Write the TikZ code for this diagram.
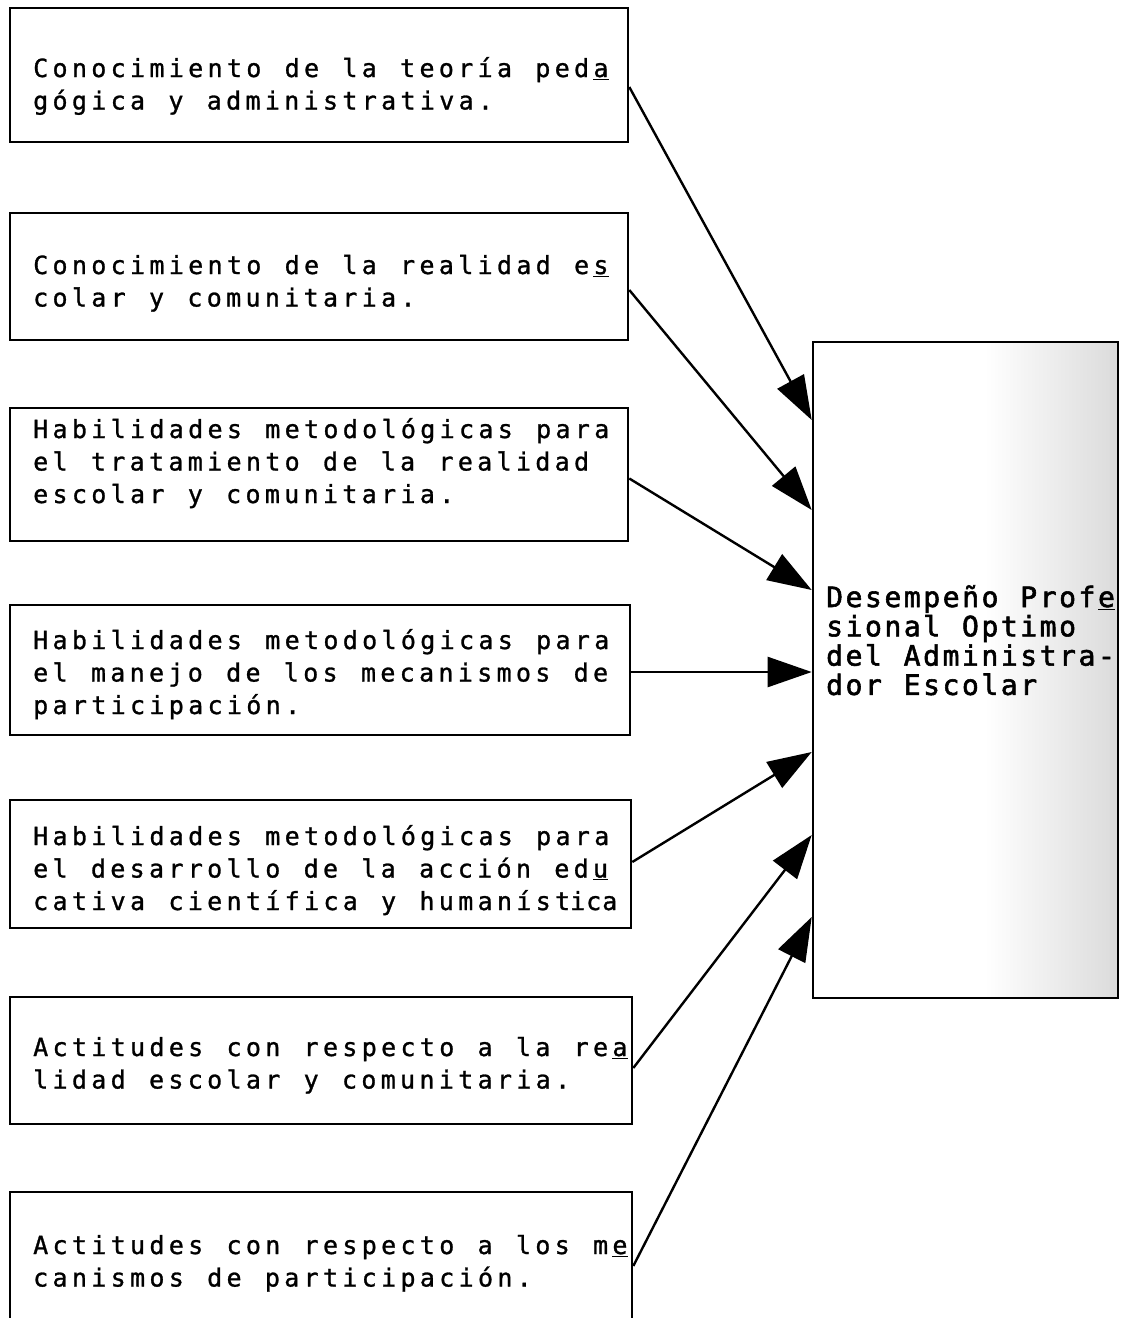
\documentclass[tikz,border=0pt]{standalone}
\usepackage{fontspec}
\usetikzlibrary{arrows.meta}
\newfontfamily\twl[LetterSpace=17.3,FakeBold=1.1]{DejaVu Sans Mono}
\newfontfamily\twr[LetterSpace=9.2,FakeBold=2]{DejaVu Sans Mono}
\newdimen\ulk
\newcommand\ulc[1]{\kern\ulk\underline{#1}}
\ExplSyntaxOn
\dim_new:N \l_tw_sp_dim
\NewDocumentCommand \twline { m }
  {
    \tl_set:Nn \l_tmpa_tl { #1 }
    \tl_replace_all:Nnn \l_tmpa_tl { ~ } { \hskip \l_tw_sp_dim \relax }
    \hbox:n { \l_tmpa_tl }
  }
\NewDocumentCommand \twsp { m } { \dim_set:Nn \l_tw_sp_dim { #1 } }
\ExplSyntaxOff
\newcommand\ltxt[1]{{\twl\fontsize{25pt}{32.5pt}\selectfont\twsp{23.3pt}\ulk=4.3pt\vtop{#1}}}
\newcommand\rtxt[1]{{\twr\fontsize{28pt}{29.3pt}\selectfont\twsp{21.8pt}\ulk=2.6pt\vtop{#1}}}
\tikzset{
  box/.style={draw, line width=2.6pt, inner sep=0pt, minimum width=#1},
  box/.default=618pt,
  ltext/.style={anchor=base west, inner sep=0pt},
  arr/.style={line width=2.4pt, -{Triangle[length=44pt,width=30pt]}}
}
\begin{document}
\begin{tikzpicture}[x=1pt,y=-1pt]
\useasboundingbox (0,0) rectangle (1124,1318);
% scan shading in right box
\fill[left color=white, right color=black!14] (985,343) rectangle (1117,997);
% left boxes
\node[box=618pt, minimum height=134pt] (b1) at (319,75) {};
\node[box=618pt, minimum height=127pt] (b2) at (319,276.5) {};
\node[box=618pt, minimum height=133pt] (b3) at (319,474.5) {};
\node[box=620pt, minimum height=130pt] (b4) at (320,670) {};
\node[box=621pt, minimum height=128pt] (b5) at (320.5,864) {};
\node[box=622pt, minimum height=127pt] (b6) at (321,1060.5) {};
\node[box=622pt, minimum height=140pt] (b7) at (321,1262) {};
% right box
\node[box=305pt, minimum height=656pt] (R) at (965.5,670) {};
% texts
\node[ltext] (t1) at (33,77) {\ltxt{\twline{Conocimiento de la teoría ped\ulc{a}}\twline{gógica y administrativa.}}};
\node[ltext] (t2) at (33,274) {\ltxt{\twline{Conocimiento de la realidad e\ulc{s}}\twline{colar y comunitaria.}}};
\node[ltext] (t3) at (33,438) {\ltxt{\twline{Habilidades metodológicas para}\twline{el tratamiento de la realidad}\twline{escolar y comunitaria.}}};
\node[ltext] (t4) at (33,649) {\ltxt{\twline{Habilidades metodológicas para}\twline{el manejo de los mecanismos de}\twline{participación.}}};
\node[ltext] (t5) at (33,845) {\ltxt{\twline{Habilidades metodológicas para}\twline{el desarrollo de la acción ed\ulc{u}}\twline{cativa científica y humaníst{\addfontfeature{LetterSpace=4}ica}}}};
\node[ltext] (t6) at (33,1056) {\ltxt{\twline{Actitudes con respecto a la re\ulc{a}}\twline{lidad escolar y comunitaria.}}};
\node[ltext] (t7) at (33,1254) {\ltxt{\twline{Actitudes con respecto a los m\ulc{e}}\twline{canismos de participación.}}};
\node[ltext] (tr) at (826,607) {\rtxt{\twline{Desempeño Prof\ulc{e}}\twline{sional Optimo}\twline{del Administra-}\twline{dor Escolar}}};
% arrows
\draw[arr] ([yshift=-12pt]b1.east) -- ([yshift=250pt]R.west);
\draw[arr] ([yshift=-13.5pt]b2.east) -- ([yshift=160pt]R.west);
\draw[arr] ([yshift=-4pt]b3.east) -- ([yshift=80pt]R.west);
\draw[arr] ([yshift=-2pt]b4.east) -- ([yshift=-2pt]R.west);
\draw[arr] ([yshift=2pt]b5.east) -- ([yshift=-82pt]R.west);
\draw[arr] ([yshift=-7.5pt]b6.east) -- ([yshift=-165pt]R.west);
\draw[arr] ([yshift=-4pt]b7.east) -- ([yshift=-247pt]R.west);
\end{tikzpicture}
\end{document}
